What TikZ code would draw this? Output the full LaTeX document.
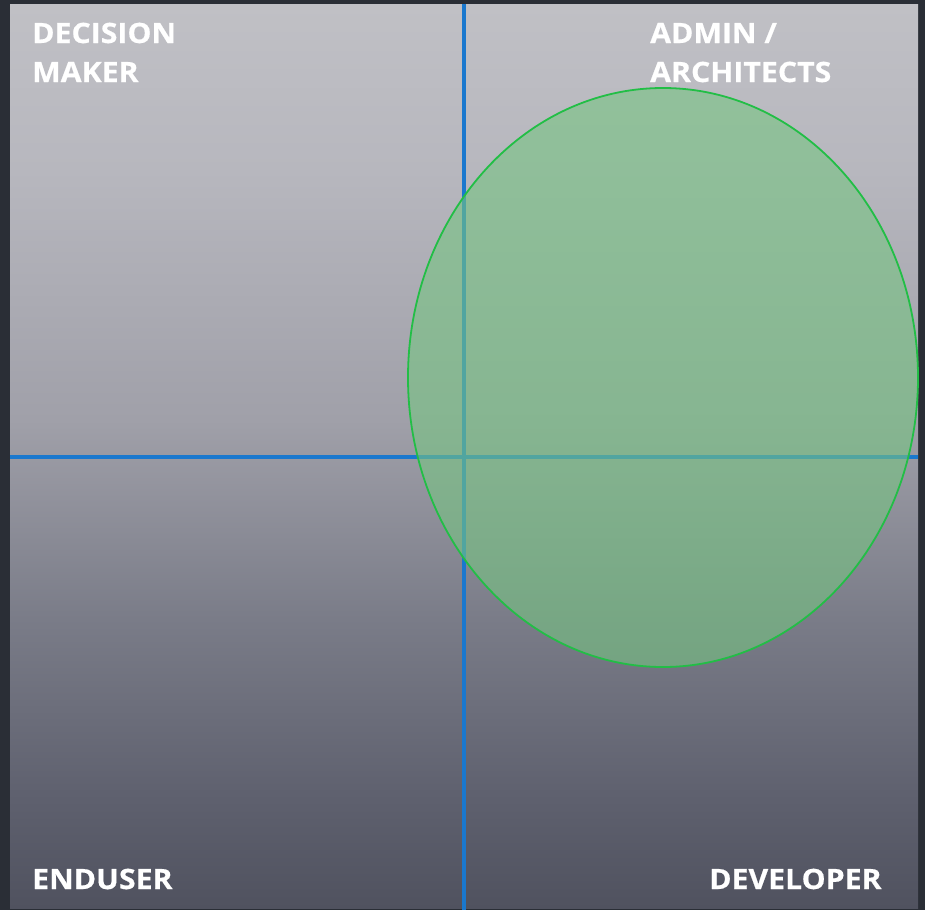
\documentclass[tikz,border=0pt]{standalone}
\usepackage{fontspec}
\setmainfont{Open Sans}
\newfontfamily\lblfont{Open Sans}[FakeStretch=1.08, FakeBold=0.6]
\definecolor{bgdark}{RGB}{42,46,54}
\definecolor{qtop}{RGB}{192,192,197}
\definecolor{q1}{RGB}{183,183,190}
\definecolor{q2}{RGB}{160,160,169}
\definecolor{q3}{RGB}{122,124,136}
\definecolor{q4}{RGB}{94,96,110}
\definecolor{qbot}{RGB}{80,82,95}
\definecolor{axisblue}{RGB}{26,120,206}
\definecolor{ellfill}{RGB}{118,196,130}
\definecolor{ellline}{RGB}{34,190,70}
\pgfdeclareverticalshading{quadshade}{100bp}{color(0bp)=(qbot); color(25bp)=(qbot); color(31bp)=(q4); color(41bp)=(q3); color(52bp)=(q2); color(65.8bp)=(q1); color(75bp)=(qtop); color(100bp)=(qtop)}
\tikzset{
  lbl/.style={anchor=base west, inner sep=0pt, text=white, font=\lblfont\fontsize{28}{28}\selectfont\bfseries},
  axisline/.style={draw=axisblue, line width=4.5pt},
}
\begin{document}
\begin{tikzpicture}[x=1pt,y=-1pt]
\useasboundingbox (0,0) rectangle (925,910);
\fill[bgdark] (0,0) rectangle (925,910);
\shade[shading=quadshade] (10,4) rectangle (918,908);
\coordinate (vtop) at (464,4);
\coordinate (vbot) at (464,910);
\coordinate (hl) at (10,457);
\coordinate (hr) at (918,457);
\draw[axisline] (vtop) -- (vbot);
\draw[axisline] (hl) -- (hr);
\draw[draw=ellline, line width=1.8pt, fill=ellfill, fill opacity=0.6] (663,377.5) ellipse [x radius=255, y radius=289.5];
\node[lbl] (dm1) at (32,43) {DECISION};
\node[lbl] (dm2) at (32,82) {MAKER};
\node[lbl] (aa1) at (650,43) {ADMIN /};
\node[lbl] (aa2) at (650,82) {ARCHITECTS};
\node[lbl] (eu) at (32,889) {ENDUSER};
\node[lbl] (dev) at (709,889) {DEVELOPER};
\end{tikzpicture}
\end{document}
